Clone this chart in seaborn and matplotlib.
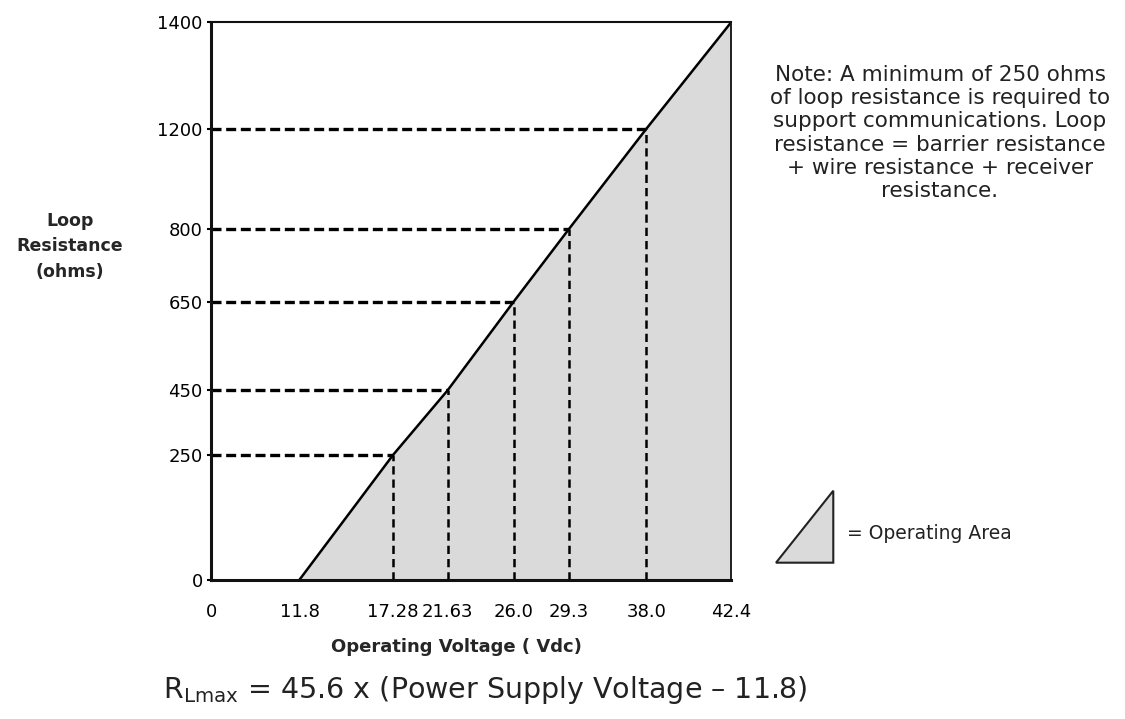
import numpy as np
import matplotlib.pyplot as plt
from matplotlib.patches import Polygon
import seaborn as sns

# operating line: supply voltage vs max loop resistance
voltage = [11.8, 17.28, 21.63, 26.0, 29.3, 38.0, 42.4]
resistance = [0, 250, 450, 650, 800, 1200, 1400]

# dashed reference lines
ref_voltage = [17.28, 21.63, 26.0, 29.3, 38.0]
ref_resistance = [250, 450, 650, 800, 1200]

x_ticks = [0, 11.8, 17.28, 21.63, 26.0, 29.3, 38.0, 42.4]
x_labels = ['0', '11.8', '17.28', '21.63', '26.0', '29.3', '38.0', '42.4']
y_ticks = [0, 250, 450, 650, 800, 1200, 1400]
y_labels = ['0', '250', '450', '650', '800', '1200', '1400']

# the drawing is not to scale: where each tick sits along its axis (0..1)
x_frac = [0, 0.170, 0.350, 0.455, 0.582, 0.688, 0.837, 1.0]
y_frac = [0, 0.224, 0.340, 0.499, 0.629, 0.809, 1.0]

note = ("Note: A minimum of 250 ohms\n"
        "of loop resistance is required to\n"
        "support communications. Loop\n"
        "resistance = barrier resistance\n"
        "+ wire resistance + receiver\n"
        "resistance.")


def schematic_scale(ticks, frac):
    def forward(v):
        return np.interp(v, ticks, frac)

    def inverse(p):
        return np.interp(p, frac, ticks)
    return forward, inverse


sns.set_theme(style='white')
plt.rcParams['font.family'] = ['DejaVu Sans']
plt.rcParams['mathtext.fontset'] = 'dejavusans'

fig = plt.figure(figsize=(11.25, 7.19), dpi=100)
ax = fig.add_axes([0.1876, 0.1936, 0.4622, 0.7752])

ax.set_xscale('function', functions=schematic_scale(x_ticks, x_frac))
ax.set_yscale('function', functions=schematic_scale(y_ticks, y_frac))
ax.set_xlim(0, 42.4)
ax.set_ylim(0, 1400)

# operating area
ax.fill_between(voltage, resistance, 0, color='#dadada', lw=0, zorder=1)

ax.hlines(ref_resistance, 0, ref_voltage, colors='black', lw=2.4,
          linestyles=(0, (3, 1.4)), zorder=2)
ax.vlines(ref_voltage, 0, ref_resistance, colors='black', lw=1.8,
          linestyles=(0, (3.3, 2)), zorder=2)

sns.lineplot(x=voltage, y=resistance, ax=ax, color='black', lw=1.8, zorder=3)

ax.set_xticks(x_ticks, labels=x_labels)
ax.set_yticks(y_ticks, labels=y_labels)
ax.tick_params(axis='x', length=0, pad=17, labelsize=13, colors='black')
ax.tick_params(axis='y', length=3, width=1.5, pad=3, labelsize=13,
               colors='black', left=True)

for side, lw in [('left', 2.2), ('bottom', 2.2), ('top', 1.5), ('right', 1.3)]:
    ax.spines[side].set_linewidth(lw)
    ax.spines[side].set_color('#111111')
    ax.spines[side].set_zorder(4)

ax.set_xlabel('Operating Voltage ( Vdc)', fontsize=13, fontweight='bold')
ax.xaxis.label.set_va('center')
ax.xaxis.set_label_coords(0.471, -0.1206)
ax.set_ylabel('Loop\nResistance\n(ohms)', fontsize=12.5, fontweight='bold',
              rotation=0, ha='center', va='center', linespacing=1.55)
ax.yaxis.set_label_coords(-0.271, 0.598)

fig.text(940 / 1125, 1 - 133 / 719, note, ha='center', va='center',
         multialignment='center', fontsize=15.5, linespacing=1.21,
         color='#222222')

# legend glyph for the operating area
tri = Polygon([(0.6898, 0.2174), (0.7407, 0.3175), (0.7407, 0.2174)],
              closed=True, transform=fig.transFigure, facecolor='#dadada',
              edgecolor='#222222', lw=1.5)
fig.patches.append(tri)
fig.text(0.7526, 0.2583, '= Operating Area', fontsize=13.5, va='center',
         color='#222222')

fig.text(0.145, 1 - 690 / 719,
         r'R$_{\mathregular{Lmax}}$ = 45.6 x (Power Supply Voltage – 11.8)',
         fontsize=20.5, va='center', color='#222222')

fig.savefig('out.png', dpi=100)
